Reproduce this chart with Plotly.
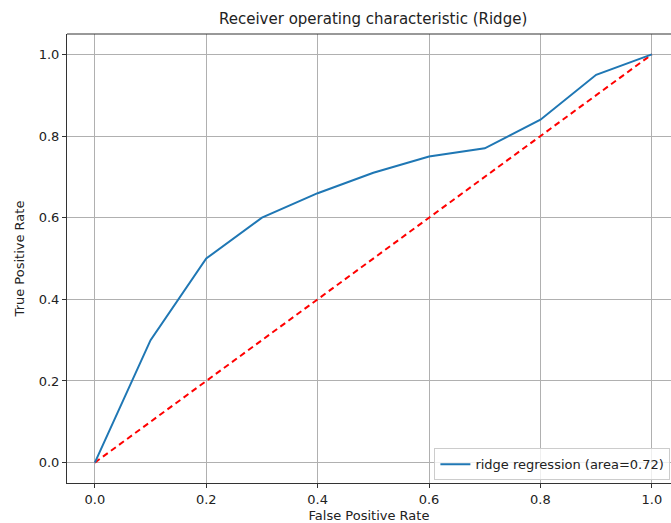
import plotly.graph_objects as go

fpr = [0.0, 0.1, 0.2, 0.3, 0.4, 0.5, 0.6, 0.7, 0.8, 0.9, 1.0]
tpr = [0.0, 0.30, 0.50, 0.60, 0.66, 0.71, 0.75, 0.77, 0.84, 0.95, 1.0]
diag = [0.0, 1.0]
ticks = [0.0, 0.2, 0.4, 0.6, 0.8, 1.0]
tick_text = ["0.0", "0.2", "0.4", "0.6", "0.8", "1.0"]

W, H = 671, 523
ml, mr, mt, mb = 67, 0, 34, 40

fig = go.Figure()
fig.add_trace(go.Scatter(x=diag, y=diag, mode="lines",
                         line=dict(color="red", width=2, dash="6px,4px"),
                         showlegend=False))
fig.add_trace(go.Scatter(x=fpr, y=tpr, mode="lines",
                         line=dict(color="#1f77b4", width=2),
                         name="ridge regression (area=0.72)"))

font = "DejaVu Sans"
axcommon = dict(showgrid=True, gridcolor="#b0b0b0", gridwidth=1,
                zeroline=False, ticks="outside", ticklen=4, tickcolor="#333",
                tickfont=dict(family=font, size=13, color="#222"),
                showline=True, linecolor="#333", linewidth=1,
                tickvals=ticks, ticktext=tick_text)

fig.update_layout(
    width=W, height=H,
    margin=dict(l=ml, r=mr, t=mt, b=mb),
    plot_bgcolor="white", paper_bgcolor="white",
    font=dict(family=font, color="#222"),
    xaxis=dict(range=[-0.05, 1.0344], mirror=False,
               title=dict(text="False Positive Rate", font=dict(size=13), standoff=5),
               **axcommon),
    yaxis=dict(range=[-0.05, 1.05], mirror=False,
               title=dict(text="True Positive Rate", font=dict(size=13), standoff=11),
               **axcommon),
    legend=dict(x=0.999, y=0.006, xanchor="right", yanchor="bottom",
                bgcolor="rgba(255,255,255,0.8)", bordercolor="#cccccc", borderwidth=1,
                font=dict(family=font, size=13, color="#222")),
    annotations=[dict(text="Receiver operating characteristic (Ridge)",
                      x=(373 - ml) / (W - ml - mr), y=1, xref="paper", yref="paper",
                      yshift=4, yanchor="bottom", showarrow=False,
                      font=dict(family=font, size=15, color="#222"))],
    shapes=[dict(type="line", xref="paper", yref="paper", x0=0, x1=1.02, y0=1, y1=1,
                 line=dict(color="#333", width=1))],
)

fig.write_html("out.html")
